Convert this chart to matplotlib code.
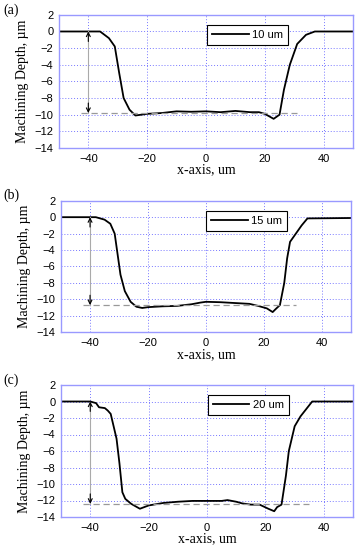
import matplotlib.pyplot as plt
import numpy as np

# profile (a) - 10 um
xa = [-50, -36, -33, -31, -29.5, -28, -26, -24, -20, -15, -10, -5, 0, 5, 10, 15, 18, 20, 22, 23, 25, 26.5, 28.5, 31, 34, 37, 50]
ya = [0, 0, -0.8, -1.8, -5, -8, -9.4, -10.1, -9.9, -9.8, -9.6, -9.65, -9.6, -9.7, -9.55, -9.7, -9.7, -9.9, -10.3, -10.5, -10, -7, -4, -1.5, -0.4, 0, 0]
# profile (b) - 15 um
xb = [-50, -38, -35, -33, -31.5, -30.5, -29.5, -28, -26, -24, -22, -20, -15, -10, -5, -2, 0, 5, 10, 15, 18, 21, 23, 24, 25.5, 27, 28, 29, 31, 33, 35, 50]
yb = [0, 0, -0.3, -0.8, -2, -4.5, -7, -9, -10.3, -10.9, -11.05, -10.95, -10.85, -10.8, -10.6, -10.4, -10.3, -10.35, -10.45, -10.55, -10.8, -11.1, -11.55, -11.2, -10.7, -8, -5, -3, -2, -1, -0.15, -0.1]
# profile (c) - 20 um
xc = [-50, -40, -38, -37, -35, -34, -33, -32, -31, -30, -29, -28, -26, -23, -20, -15, -10, -5, 0, 5, 7, 10, 12, 15, 18, 21, 23, 24, 25.5, 27, 28, 30, 32, 34, 36, 50]
yc = [0, 0, -0.2, -0.7, -0.8, -1.1, -1.5, -3, -4.5, -7.5, -11, -11.8, -12.4, -13, -12.6, -12.3, -12.15, -12.05, -12.05, -12.05, -11.95, -12.15, -12.35, -12.5, -12.5, -13, -13.3, -12.8, -12.5, -9, -6, -3, -1.8, -0.9, 0, 0]

panels = [("(a)", "10 um", xa, ya, -9.8, (-42.5, 31)),
          ("(b)", "15 um", xb, yb, -10.7, (-42.5, 31)),
          ("(c)", "20 um", xc, yc, -12.4, (-42.5, 35))]
rects = [[0.165, 0.731, 0.824, 0.242],
         [0.171, 0.396, 0.812, 0.239],
         [0.171, 0.060, 0.818, 0.240]]
label_y = [0.993, 0.657, 0.321]

spine_col = '#9999ff'
fig = plt.figure(figsize=(3.57, 5.5), dpi=100)

for (tag, lab, x, y, depth, dext), rect, ly in zip(panels, rects, label_y):
    ax = fig.add_axes(rect)
    ax.plot(x, y, color='black', lw=1.3, label=lab)
    ax.plot(dext, [depth, depth], color='#999999', lw=0.9, ls=(0, (5, 3)))
    # depth arrow: grey shaft, black heads
    ax.plot([-40, -40], [0, depth], color='#aaaaaa', lw=0.8)
    for y0, y1 in [(-1.2, 0), (depth + 1.2, depth)]:
        ax.annotate('', xy=(-40, y1), xytext=(-40, y0),
                    arrowprops=dict(arrowstyle='->', color='black', lw=0.8,
                                    shrinkA=0, shrinkB=0, mutation_scale=7))
    ax.set_xlim(-50, 50)
    ax.set_ylim(-14, 2)
    ax.set_xticks([-40, -20, 0, 20, 40])
    ax.set_yticks(np.arange(-14, 3, 2))
    ax.grid(True, color='#7777ff', ls=(0, (1, 2)), lw=0.7)
    for s in ax.spines.values():
        s.set_color(spine_col)
        s.set_linewidth(1.0)
    ax.tick_params(length=0, labelsize=8, pad=4)
    for t in ax.get_xticklabels() + ax.get_yticklabels():
        t.set_family('Liberation Sans')
    ax.set_xlabel('x-axis, um', family='Liberation Serif', fontsize=10, labelpad=0)
    ax.set_ylabel('Machining Depth, µm', family='Liberation Serif', fontsize=10, labelpad=4)
    leg = ax.legend(loc='upper right', bbox_to_anchor=(0.78, 0.925), fontsize=8,
                    fancybox=False, framealpha=1, edgecolor='black', borderaxespad=0,
                    handlelength=3.3, borderpad=0.45, handletextpad=0.3)
    leg.get_frame().set_linewidth(0.8)
    for t in leg.get_texts():
        t.set_family('Liberation Sans')
    fig.text(0.01, ly, tag, family='Liberation Serif', fontsize=10, va='top')

fig.savefig('out.png', dpi=100)
